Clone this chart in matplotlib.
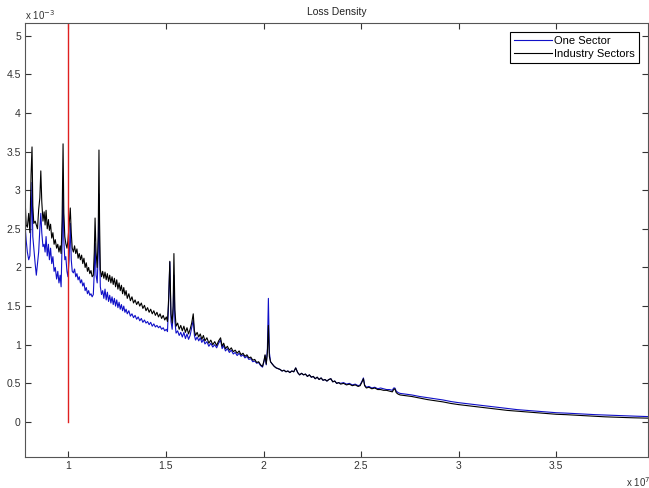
import numpy as np
import matplotlib
matplotlib.use('Agg')
import matplotlib.pyplot as plt

plt.rcParams['font.family'] = ['Liberation Sans', 'DejaVu Sans']

# loss values (x in units of 1e7, densities in units of 1e-3)
loss = [0.778, 0.784, 0.790, 0.797, 0.803, 0.809, 0.814, 0.818, 0.823, 0.830,
        0.836, 0.842, 0.848, 0.854, 0.859, 0.864, 0.870, 0.876, 0.881, 0.886,
        0.892, 0.898, 0.903, 0.909, 0.915, 0.921, 0.927, 0.933, 0.940, 0.946,
        0.952, 0.958, 0.963, 0.968, 0.973, 0.977, 0.982, 0.987, 0.993, 0.998,
        1.004, 1.010, 1.015, 1.020, 1.026, 1.032, 1.038, 1.044, 1.050, 1.056,
        1.062, 1.068, 1.074, 1.080, 1.086, 1.092, 1.098, 1.104, 1.110, 1.116,
        1.122, 1.128, 1.133, 1.137, 1.142, 1.148, 1.153, 1.157, 1.160, 1.164,
        1.170, 1.176, 1.182, 1.188, 1.194, 1.200, 1.206, 1.212, 1.218, 1.224,
        1.230, 1.236, 1.242, 1.248, 1.254, 1.260, 1.266, 1.272, 1.278, 1.284,
        1.290, 1.296, 1.302, 1.310, 1.318, 1.326, 1.334, 1.342, 1.350, 1.358,
        1.366, 1.374, 1.382, 1.390, 1.398, 1.406, 1.414, 1.422, 1.430, 1.438,
        1.446, 1.454, 1.462, 1.470, 1.478, 1.486, 1.494, 1.502, 1.508, 1.514,
        1.520, 1.526, 1.532, 1.537, 1.541, 1.546, 1.552, 1.560, 1.568, 1.576,
        1.584, 1.592, 1.600, 1.608, 1.616, 1.624, 1.632, 1.640, 1.646, 1.652,
        1.660, 1.668, 1.676, 1.684, 1.692, 1.700, 1.710, 1.720, 1.730, 1.740,
        1.750, 1.760, 1.770, 1.780, 1.788, 1.796, 1.805, 1.815, 1.825, 1.835,
        1.845, 1.855, 1.865, 1.875, 1.885, 1.895, 1.905, 1.915, 1.925, 1.935,
        1.945, 1.955, 1.965, 1.975, 1.985, 1.995, 2.003, 2.008, 2.014, 2.020,
        2.025, 2.030, 2.036, 2.045, 2.055, 2.065, 2.075, 2.085, 2.095, 2.105,
        2.115, 2.125, 2.135, 2.145, 2.155, 2.165, 2.175, 2.185, 2.195, 2.205,
        2.215, 2.225, 2.235, 2.245, 2.255, 2.265, 2.275, 2.285, 2.295, 2.305,
        2.315, 2.325, 2.335, 2.345, 2.355, 2.365, 2.375, 2.385, 2.395, 2.410,
        2.425, 2.440, 2.455, 2.470, 2.485, 2.495, 2.505, 2.512, 2.518, 2.527,
        2.540, 2.555, 2.570, 2.585, 2.600, 2.615, 2.630, 2.645, 2.660, 2.667,
        2.673, 2.680, 2.690, 2.700, 2.730, 2.760, 2.800, 2.840, 2.880, 2.920,
        2.960, 3.000, 3.050, 3.100, 3.150, 3.200, 3.250, 3.300, 3.350, 3.400,
        3.450, 3.500, 3.550, 3.600, 3.650, 3.700, 3.750, 3.800, 3.850, 3.900,
        3.970]

industry = [2.91, 2.55, 2.52, 2.70, 2.45, 3.20, 3.56, 2.80, 2.57, 2.60,
            2.55, 2.50, 2.75, 2.90, 3.25, 2.85, 2.60, 2.72, 2.55, 2.74,
            2.50, 2.62, 2.48, 2.56, 2.38, 2.45, 2.30, 2.36, 2.25, 2.30,
            2.20, 2.28, 2.18, 2.60, 3.60, 2.70, 2.40, 2.31, 2.25, 2.35,
            2.55, 2.77, 2.45, 2.25, 2.20, 2.28, 2.18, 2.24, 2.12, 2.18,
            2.10, 2.16, 2.05, 2.12, 2.00, 2.06, 1.95, 2.00, 1.92, 1.96,
            1.88, 1.90, 2.20, 2.64, 2.20, 2.00, 2.40, 3.52, 2.60, 1.97,
            1.88, 1.95, 1.86, 1.94, 1.84, 1.92, 1.82, 1.90, 1.80, 1.88,
            1.78, 1.86, 1.75, 1.84, 1.72, 1.80, 1.70, 1.77, 1.66, 1.74,
            1.64, 1.70, 1.60, 1.66, 1.57, 1.62, 1.54, 1.58, 1.52, 1.56,
            1.50, 1.54, 1.47, 1.51, 1.44, 1.48, 1.42, 1.46, 1.40, 1.44,
            1.38, 1.42, 1.36, 1.40, 1.34, 1.38, 1.32, 1.36, 1.30, 1.60,
            2.08, 1.40, 1.28, 1.50, 2.18, 1.45, 1.24, 1.28, 1.20, 1.25,
            1.18, 1.24, 1.16, 1.22, 1.14, 1.20, 1.28, 1.40, 1.18, 1.12,
            1.16, 1.10, 1.14, 1.07, 1.12, 1.05, 1.09, 1.02, 1.06, 1.00,
            1.04, 0.99, 1.05, 1.09, 0.98, 1.02, 0.95, 0.98, 0.93, 0.96,
            0.91, 0.93, 0.89, 0.92, 0.87, 0.89, 0.85, 0.87, 0.83, 0.84,
            0.80, 0.81, 0.77, 0.78, 0.74, 0.72, 0.80, 0.87, 0.75, 0.90,
            1.25, 0.85, 0.78, 0.75, 0.72, 0.70, 0.69, 0.68, 0.66, 0.67,
            0.65, 0.66, 0.64, 0.66, 0.65, 0.70, 0.64, 0.61, 0.63, 0.61,
            0.62, 0.59, 0.61, 0.58, 0.59, 0.56, 0.58, 0.55, 0.57, 0.54,
            0.55, 0.53, 0.55, 0.56, 0.52, 0.53, 0.50, 0.51, 0.49, 0.50,
            0.48, 0.49, 0.47, 0.48, 0.46, 0.47, 0.52, 0.56, 0.47, 0.44,
            0.45, 0.43, 0.44, 0.42, 0.42, 0.41, 0.41, 0.40, 0.39, 0.42,
            0.43, 0.38, 0.36, 0.35, 0.34, 0.33, 0.31, 0.29, 0.275, 0.26,
            0.24, 0.225, 0.21, 0.195, 0.18, 0.165, 0.15, 0.14, 0.13, 0.12,
            0.11, 0.10, 0.095, 0.088, 0.08, 0.073, 0.067, 0.062, 0.058, 0.054,
            0.05]

one_sector = [2.57, 2.35, 2.20, 2.10, 2.15, 2.60, 3.10, 2.40, 2.25, 2.05,
              1.90, 2.05, 2.20, 2.50, 2.70, 2.45, 2.27, 2.30, 2.20, 2.40,
              2.15, 2.30, 2.10, 2.25, 2.05, 2.14, 1.95, 2.00, 1.85, 1.95,
              1.80, 1.90, 1.75, 2.30, 3.08, 2.35, 2.10, 2.14, 1.95, 1.88,
              2.10, 2.57, 2.10, 1.95, 1.93, 1.98, 1.88, 1.92, 1.84, 1.88,
              1.80, 1.84, 1.76, 1.80, 1.70, 1.74, 1.66, 1.70, 1.64, 1.66,
              1.62, 1.65, 1.95, 2.31, 1.90, 1.80, 2.20, 2.95, 2.20, 1.75,
              1.65, 1.70, 1.60, 1.72, 1.58, 1.68, 1.56, 1.64, 1.54, 1.62,
              1.52, 1.60, 1.50, 1.58, 1.48, 1.55, 1.46, 1.52, 1.44, 1.50,
              1.42, 1.46, 1.40, 1.44, 1.37, 1.40, 1.35, 1.38, 1.33, 1.36,
              1.31, 1.34, 1.29, 1.32, 1.28, 1.30, 1.26, 1.29, 1.24, 1.27,
              1.23, 1.25, 1.22, 1.24, 1.20, 1.22, 1.18, 1.20, 1.17, 1.55,
              2.07, 1.30, 1.20, 1.40, 1.90, 1.30, 1.15, 1.18, 1.12, 1.16,
              1.10, 1.16, 1.08, 1.14, 1.07, 1.12, 1.22, 1.32, 1.12, 1.06,
              1.10, 1.05, 1.09, 1.03, 1.07, 1.01, 1.04, 0.98, 1.02, 0.97,
              1.00, 0.96, 1.02, 1.06, 0.95, 0.99, 0.92, 0.95, 0.90, 0.93,
              0.88, 0.90, 0.86, 0.89, 0.85, 0.87, 0.83, 0.85, 0.81, 0.82,
              0.78, 0.79, 0.76, 0.77, 0.73, 0.71, 0.79, 0.86, 0.74, 0.95,
              1.60, 0.90, 0.78, 0.75, 0.72, 0.70, 0.69, 0.68, 0.66, 0.67,
              0.65, 0.66, 0.64, 0.66, 0.65, 0.70, 0.64, 0.61, 0.63, 0.61,
              0.62, 0.59, 0.61, 0.58, 0.59, 0.56, 0.58, 0.55, 0.57, 0.54,
              0.55, 0.53, 0.55, 0.56, 0.52, 0.53, 0.50, 0.51, 0.50, 0.51,
              0.49, 0.50, 0.48, 0.49, 0.47, 0.48, 0.53, 0.57, 0.48, 0.45,
              0.46, 0.44, 0.45, 0.43, 0.44, 0.43, 0.42, 0.42, 0.41, 0.44,
              0.44, 0.40, 0.38, 0.37, 0.36, 0.35, 0.33, 0.315, 0.30, 0.285,
              0.265, 0.25, 0.235, 0.22, 0.205, 0.19, 0.175, 0.16, 0.15, 0.14,
              0.13, 0.12, 0.115, 0.108, 0.10, 0.095, 0.09, 0.085, 0.08, 0.076,
              0.07]

threshold = 1.0  # x 1e7, red marker

x = np.array(loss) * 1e7
fig = plt.figure(figsize=(6.49, 4.88), dpi=100)
ax = fig.add_axes([25 / 649, 31 / 488, 623 / 649, 434 / 488])

ax.plot(x, np.array(one_sector) * 1e-3, color='#1010c8', lw=0.8, label='One Sector')
ax.plot(x, np.array(industry) * 1e-3, color='black', lw=0.8, label='Industry Sectors')
ax.plot([threshold * 1e7, threshold * 1e7], [0, 5.3e-3], color='#e02020', lw=1.0)

ax.set_xlim(0.778e7, 3.97e7)
ax.set_ylim(-0.453e-3, 5.164e-3)

xt = [1, 1.5, 2, 2.5, 3, 3.5]
ax.set_xticks([v * 1e7 for v in xt])
ax.set_xticklabels(['1', '1.5', '2', '2.5', '3', '3.5'])
yt = [0, 0.5, 1, 1.5, 2, 2.5, 3, 3.5, 4, 4.5, 5]
ax.set_yticks([v * 1e-3 for v in yt])
ax.set_yticklabels(['0', '0.5', '1', '1.5', '2', '2.5', '3', '3.5', '4', '4.5', '5'])

ax.tick_params(direction='in', length=4, width=0.8, top=True, right=True,
               labelsize=7.5, colors='#333333', pad=3)
for s in ax.spines.values():
    s.set_color('#555555')
    s.set_linewidth(0.8)

ax.set_title('Loss Density', fontsize=7.5, pad=6, color='#222222')
fig.text(25 / 649, 1 - 15 / 488, r'x 10$^{-3}$', fontsize=7, color='#333333',
         va='center', ha='left')
fig.text(626 / 649, 1 - 482 / 488, r'x 10$^{7}$', fontsize=7, color='#333333',
         va='center', ha='left')

leg = ax.legend(loc='upper right', fontsize=8, fancybox=False, framealpha=1,
                edgecolor='black', borderpad=0.35, handlelength=3.4,
                handletextpad=0.25, labelspacing=0.3, borderaxespad=0.8)
leg.get_frame().set_linewidth(0.8)

fig.savefig('out.png', dpi=100)
